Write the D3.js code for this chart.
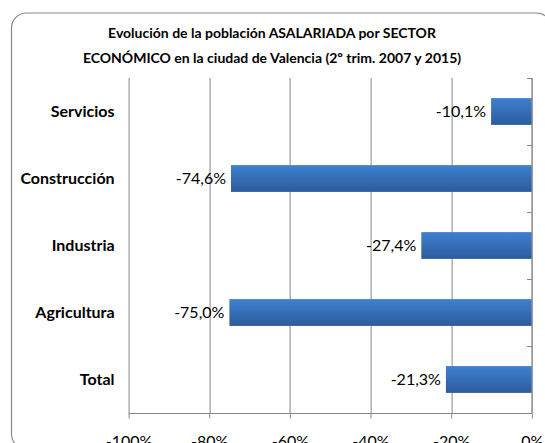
<!DOCTYPE html>
<html>
<head>
<meta charset="utf-8">
<script src="https://cdn.jsdelivr.net/npm/d3@7"></script>
<style>
  body { margin: 0; background: #fff; }
  svg { display: block; font-family: Lato, "Open Sans", sans-serif; }
</style>
</head>
<body>
<div id="chart"></div>
<script>
// data (top to bottom)
var sectores = ["Servicios", "Construcción", "Industria", "Agricultura", "Total"]
var variacion = [-10.1, -74.6, -27.4, -75.0, -21.3]
var ticks_x = [-100, -80, -60, -40, -20, 0]

var W = 545, H = 443
var margin = {top: 78, right: 13, bottom: 30, left: 128.6}
var width = 531.8 - margin.left
var height = 413 - margin.top

var svg = d3.select("#chart").append("svg")
    .attr("width", W)
    .attr("height", H)

var defs = svg.append("defs")
var grad = defs.append("linearGradient")
    .attr("id", "barra")
    .attr("x1", 0).attr("y1", 0).attr("x2", 0).attr("y2", 1)
grad.append("stop").attr("offset", "0%").attr("stop-color", "#3f80d0")
grad.append("stop").attr("offset", "100%").attr("stop-color", "#2c5b9b")

// outer frame
svg.append("rect")
    .attr("x", 11.5).attr("y", 13)
    .attr("width", 540).attr("height", 436)
    .attr("rx", 15).attr("ry", 15)
    .attr("fill", "#fff")
    .attr("stroke", "#868686")
    .attr("stroke-width", 1.2)

// title
var title = svg.append("text")
    .attr("text-anchor", "middle")
    .attr("font-weight", "bold")
    .attr("font-size", 14)
    .attr("fill", "#000")
title.append("tspan").attr("x", 272).attr("y", 38).text("Evolución de la población ASALARIADA por SECTOR")
title.append("tspan").attr("x", 272).attr("y", 63).text("ECONÓMICO en la ciudad de Valencia (2º trim. 2007 y 2015)")

var g = svg.append("g")
    .attr("transform", "translate(" + margin.left + "," + margin.top + ")")

var x = d3.scaleLinear().domain([-100, 0]).range([0, width])
var y = d3.scaleBand().domain(sectores).range([0, height]).paddingInner(0.6).paddingOuter(0.3)

// gridlines
g.selectAll(".grid")
    .data(ticks_x)
  .enter().append("line")
    .attr("class", "grid")
    .attr("x1", function(d){ return Math.round(x(d)) + 0.5 })
    .attr("x2", function(d){ return Math.round(x(d)) + 0.5 })
    .attr("y1", 0)
    .attr("y2", height)
    .attr("stroke", "#868686")
    .attr("stroke-width", 1)

// bars
g.selectAll(".bar")
    .data(variacion)
  .enter().append("rect")
    .attr("class", "bar")
    .attr("x", function(d){ return x(d) })
    .attr("y", function(d, i){ return y(sectores[i]) })
    .attr("width", function(d){ return x(0) - x(d) })
    .attr("height", y.bandwidth())
    .attr("fill", "url(#barra)")

// value labels
g.selectAll(".val")
    .data(variacion)
  .enter().append("text")
    .attr("class", "val")
    .attr("x", function(d){ return x(d) - 5 })
    .attr("y", function(d, i){ return y(sectores[i]) + y.bandwidth() / 2 })
    .attr("dy", "0.35em")
    .attr("text-anchor", "end")
    .attr("font-size", 16)
    .attr("fill", "#000")
    .text(function(d){ return d.toFixed(1).replace(".", ",") + "%" })

// bottom axis
var xAxis = d3.axisBottom(x)
    .tickValues(ticks_x)
    .tickSize(5)
    .tickPadding(17)
    .tickFormat(function(d){ return d + "%" })
var ax = g.append("g")
    .attr("transform", "translate(0," + (Math.round(height) + 0.5) + ")")
    .call(xAxis)
ax.select(".domain").attr("stroke", "#868686").attr("d", "M0,0H" + width)
ax.selectAll(".tick line").attr("stroke", "#868686")
ax.selectAll(".tick text")
    .attr("font-size", 16)
    .attr("font-family", "Lato, sans-serif")
    .attr("fill", "#000")

// right axis at 0 with category ticks
var ay = g.append("g")
    .attr("transform", "translate(" + (Math.round(width) + 0.5) + ",0)")
var bounds = d3.range(sectores.length + 1).map(function(i){ return i * height / sectores.length })
ay.selectAll("line")
    .data(bounds)
  .enter().append("line")
    .attr("x1", -5).attr("x2", 0)
    .attr("y1", function(d){ return Math.round(d) + 0.5 })
    .attr("y2", function(d){ return Math.round(d) + 0.5 })
    .attr("stroke", "#868686")
ay.append("line")
    .attr("x1", 0).attr("x2", 0)
    .attr("y1", 0).attr("y2", height)
    .attr("stroke", "#868686")

// category labels
g.selectAll(".cat")
    .data(sectores)
  .enter().append("text")
    .attr("class", "cat")
    .attr("x", -14)
    .attr("y", function(d){ return y(d) + y.bandwidth() / 2 })
    .attr("dy", "0.35em")
    .attr("text-anchor", "end")
    .attr("font-weight", "bold")
    .attr("font-size", 16)
    .attr("fill", "#000")
    .text(function(d){ return d })
</script>
</body>
</html>
